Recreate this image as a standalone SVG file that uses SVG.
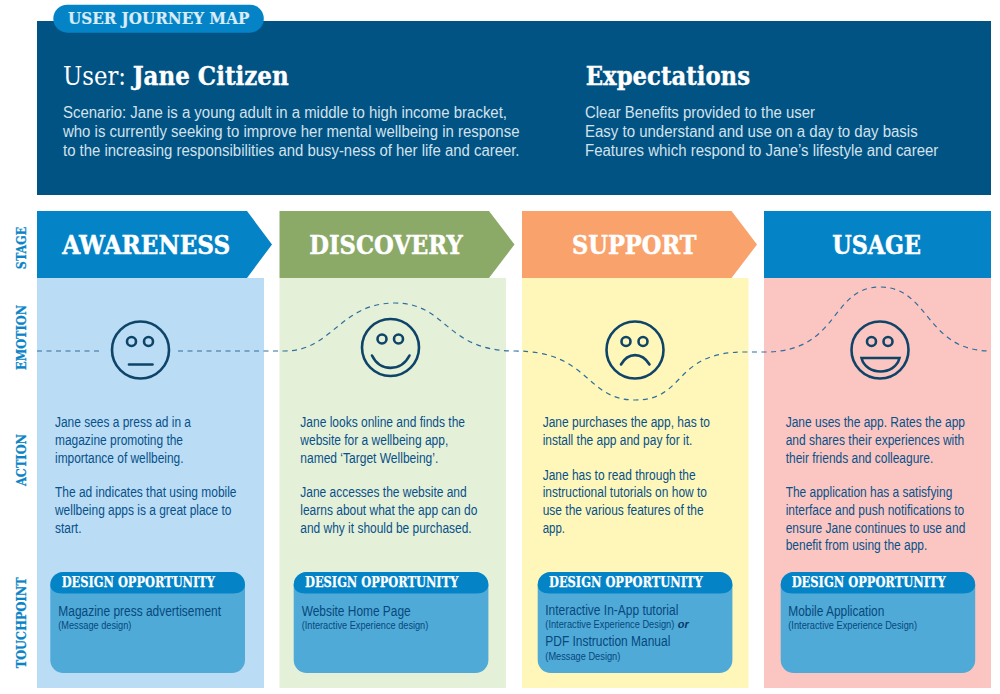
<svg xmlns="http://www.w3.org/2000/svg" width="1000" height="694" viewBox="0 0 1000 694">
<style>
text{font-family:"Liberation Sans",Arial,sans-serif}
.slab{font-family:"DejaVu Serif","Liberation Serif",serif;font-weight:700}
.stage{font-size:26px;fill:#fff;stroke:#fff;stroke-width:.5;text-anchor:middle}
.side{font-size:13.500px;fill:#0a84c6;stroke:#0a84c6;stroke-width:.25;text-anchor:middle}
.body{font-size:14px;fill:#07518a}
.hd{font-size:16px;fill:#d3e2ec}
.dh{font-size:14px;fill:#fff;stroke:#fff;stroke-width:.25}
.big{font-size:15.500px;fill:#07487c}
.small{font-size:11.500px;fill:#07487c}
.card{fill:#4faad8}
.cardh{fill:#0484c7}
.face circle,.face path{fill:none;stroke:#0f4469;stroke-width:2.6;stroke-linecap:round}
.eye{stroke-width:2.2}
.conn{fill:none;stroke:#2f6e9e;stroke-width:1.2;stroke-dasharray:5 4.5}
</style>
<rect width="1000" height="694" fill="#fff"/>
<g id="header">
<rect x="37" y="21" width="954" height="174" fill="#015384"/>
<rect x="53.300" y="4.700" width="210.500" height="28" rx="14" fill="#0484c7"/>
<text class="slab" x="68" y="24" font-size="16" fill="#d9ecf7" stroke="#d9ecf7" stroke-width=".2" textLength="181.300" lengthAdjust="spacingAndGlyphs">USER JOURNEY MAP</text>
<text x="63" y="85" font-size="26" fill="#fff" style="font-family:'DejaVu Serif','Liberation Serif',serif" textLength="63" lengthAdjust="spacingAndGlyphs">User:</text>
<text class="slab" x="132.700" y="85" font-size="26" fill="#fff" stroke="#fff" stroke-width=".4" textLength="156" lengthAdjust="spacingAndGlyphs">Jane Citizen</text>
<text class="hd" x="63" y="117.500" textLength="444" lengthAdjust="spacingAndGlyphs">Scenario: Jane is a young adult in a middle to high income bracket,</text>
<text class="hd" x="63" y="137" textLength="456.500" lengthAdjust="spacingAndGlyphs">who is currently seeking to improve her mental wellbeing in response</text>
<text class="hd" x="63" y="156" textLength="456.500" lengthAdjust="spacingAndGlyphs">to the increasing responsibilities and busy-ness of her life and career.</text>
<text class="slab" x="585.700" y="85" font-size="26" fill="#fff" stroke="#fff" stroke-width=".4" textLength="164.300" lengthAdjust="spacingAndGlyphs">Expectations</text>
<text class="hd" x="585" y="117.500" textLength="230" lengthAdjust="spacingAndGlyphs">Clear Benefits provided to the user</text>
<text class="hd" x="585" y="137" textLength="332.700" lengthAdjust="spacingAndGlyphs">Easy to understand and use on a day to day basis</text>
<text class="hd" x="585" y="156" textLength="353.300" lengthAdjust="spacingAndGlyphs">Features which respond to Jane’s lifestyle and career</text>
</g>
<g id="side-labels">
<text class="slab side" transform="translate(26,248) rotate(-90)" textLength="42.300" lengthAdjust="spacingAndGlyphs">STAGE</text>
<text class="slab side" transform="translate(26,337.500) rotate(-90)" textLength="65" lengthAdjust="spacingAndGlyphs">EMOTION</text>
<text class="slab side" transform="translate(26,460) rotate(-90)" textLength="52" lengthAdjust="spacingAndGlyphs">ACTION</text>
<text class="slab side" transform="translate(26,622.800) rotate(-90)" textLength="91" lengthAdjust="spacingAndGlyphs">TOUCHPOINT</text>
</g>
<g id="awareness">
<rect x="37" y="278" width="227" height="410" fill="#badcf5"/>
<path d="M37 211H247L272 244.500L247 278H37Z" fill="#0484c7"/>
<text class="slab stage" x="146.300" y="254" textLength="168" lengthAdjust="spacingAndGlyphs">AWARENESS</text>
<text class="body" x="55" y="427.300" textLength="136" lengthAdjust="spacingAndGlyphs">Jane sees a press ad in a</text>
<text class="body" x="55" y="445" textLength="128" lengthAdjust="spacingAndGlyphs">magazine promoting the</text>
<text class="body" x="55" y="462.500" textLength="128.500" lengthAdjust="spacingAndGlyphs">importance of wellbeing.</text>
<text class="body" x="55" y="497" textLength="181.500" lengthAdjust="spacingAndGlyphs">The ad indicates that using mobile</text>
<text class="body" x="55" y="515" textLength="176.500" lengthAdjust="spacingAndGlyphs">wellbeing apps is a great place to</text>
<text class="body" x="55" y="532.500" textLength="26.500" lengthAdjust="spacingAndGlyphs">start.</text>
<rect class="card" x="50.300" y="572" width="194.700" height="101" rx="13"/>
<path class="cardh" d="M63.300 572H232A13 13 0 0 1 245 585V585C245 590 240 593.500 233 593.500H62.300C55 593.500 50.300 590 50.300 585A13 13 0 0 1 63.300 572Z"/>
<text class="slab dh" x="61.700" y="587" textLength="153.300" lengthAdjust="spacingAndGlyphs">DESIGN OPPORTUNITY</text>
<text class="big" x="58.300" y="615.500" textLength="162.700" lengthAdjust="spacingAndGlyphs">Magazine press advertisement</text>
<text class="small" x="58.300" y="629" textLength="73" lengthAdjust="spacingAndGlyphs">(Message design)</text>
</g>
<g id="discovery">
<rect x="279.500" y="278" width="226.500" height="410" fill="#e5f0d8"/>
<path d="M279.500 211H489L514.500 244.500L489 278H279.500Z" fill="#8ba967"/>
<text class="slab stage" x="386" y="254" textLength="153.400" lengthAdjust="spacingAndGlyphs">DISCOVERY</text>
<text class="body" x="300.300" y="427.300" textLength="164.700" lengthAdjust="spacingAndGlyphs">Jane looks online and finds the</text>
<text class="body" x="300.300" y="445" textLength="148" lengthAdjust="spacingAndGlyphs">website for a wellbeing app,</text>
<text class="body" x="300.300" y="462.500" textLength="138" lengthAdjust="spacingAndGlyphs">named ‘Target Wellbeing’.</text>
<text class="body" x="300.300" y="497" textLength="166.400" lengthAdjust="spacingAndGlyphs">Jane accesses the website and</text>
<text class="body" x="300.300" y="515" textLength="177" lengthAdjust="spacingAndGlyphs">learns about what the app can do</text>
<text class="body" x="300.300" y="532.500" textLength="171.400" lengthAdjust="spacingAndGlyphs">and why it should be purchased.</text>
<rect class="card" x="293.700" y="572" width="194.700" height="101" rx="13"/>
<path class="cardh" d="M306.700 572H475.400A13 13 0 0 1 488.400 585V585C488.400 590 483.400 593.500 476.400 593.500H305.700C298.400 593.500 293.700 590 293.700 585A13 13 0 0 1 306.700 572Z"/>
<text class="slab dh" x="305" y="587" textLength="153.300" lengthAdjust="spacingAndGlyphs">DESIGN OPPORTUNITY</text>
<text class="big" x="301.700" y="615.500" textLength="109" lengthAdjust="spacingAndGlyphs">Website Home Page</text>
<text class="small" x="301.700" y="629" textLength="126.600" lengthAdjust="spacingAndGlyphs">(Interactive Experience design)</text>
</g>
<g id="support">
<rect x="522" y="278" width="226.500" height="410" fill="#fef7b9"/>
<path d="M522 211H731.500L757 244.500L731.500 278H522Z" fill="#f9a26c"/>
<text class="slab stage" x="634.300" y="254" textLength="124.700" lengthAdjust="spacingAndGlyphs">SUPPORT</text>
<text class="body" x="542.700" y="427.300" textLength="167.300" lengthAdjust="spacingAndGlyphs">Jane purchases the app, has to</text>
<text class="body" x="542.700" y="445" textLength="149.600" lengthAdjust="spacingAndGlyphs">install the app and pay for it.</text>
<text class="body" x="542.700" y="479.500" textLength="153" lengthAdjust="spacingAndGlyphs">Jane has to read through the</text>
<text class="body" x="542.700" y="497" textLength="164.300" lengthAdjust="spacingAndGlyphs">instructional tutorials on how to</text>
<text class="body" x="542.700" y="515" textLength="161" lengthAdjust="spacingAndGlyphs">use the various features of the</text>
<text class="body" x="542.700" y="532.500" textLength="22.300" lengthAdjust="spacingAndGlyphs">app.</text>
<rect class="card" x="537.700" y="572" width="194.700" height="101" rx="13"/>
<path class="cardh" d="M550.700 572H719.400A13 13 0 0 1 732.400 585V585C732.400 590 727.400 593.500 720.400 593.500H549.700C542.400 593.500 537.700 590 537.700 585A13 13 0 0 1 550.700 572Z"/>
<text class="slab dh" x="549" y="587" textLength="153.700" lengthAdjust="spacingAndGlyphs">DESIGN OPPORTUNITY</text>
<text class="big" x="545.300" y="615" textLength="133" lengthAdjust="spacingAndGlyphs">Interactive In-App tutorial</text>
<text class="small" x="545.300" y="628.300" textLength="129" lengthAdjust="spacingAndGlyphs">(Interactive Experience Design)</text>
<text x="677.700" y="628.300" font-size="11" font-weight="700" font-style="italic" fill="#07396a">or</text>
<text class="big" x="545.300" y="646" textLength="125" lengthAdjust="spacingAndGlyphs">PDF Instruction Manual</text>
<text class="small" x="545.300" y="659.500" textLength="75" lengthAdjust="spacingAndGlyphs">(Message Design)</text>
</g>
<g id="usage">
<rect x="764" y="278" width="227" height="410" fill="#fbc6c1"/>
<rect x="764" y="211" width="227" height="67" fill="#0484c7"/>
<text class="slab stage" x="876.700" y="254" textLength="88.700" lengthAdjust="spacingAndGlyphs">USAGE</text>
<text class="body" x="785.700" y="427.300" textLength="179.300" lengthAdjust="spacingAndGlyphs">Jane uses the app. Rates the app</text>
<text class="body" x="785.700" y="445" textLength="178.600" lengthAdjust="spacingAndGlyphs">and shares their experiences with</text>
<text class="body" x="785.700" y="462.500" textLength="147.600" lengthAdjust="spacingAndGlyphs">their friends and colleagure.</text>
<text class="body" x="785.700" y="497" textLength="166.600" lengthAdjust="spacingAndGlyphs">The application has a satisfying</text>
<text class="body" x="785.700" y="515" textLength="178.600" lengthAdjust="spacingAndGlyphs">interface and push notifications to</text>
<text class="body" x="785.700" y="532.500" textLength="179.600" lengthAdjust="spacingAndGlyphs">ensure Jane continues to use and</text>
<text class="body" x="785.700" y="550.300" textLength="141.600" lengthAdjust="spacingAndGlyphs">benefit from using the app.</text>
<rect class="card" x="780.700" y="572" width="194.500" height="101" rx="13"/>
<path class="cardh" d="M793.700 572H962.200A13 13 0 0 1 975.200 585V585C975.200 590 970.200 593.500 963.200 593.500H792.700C785.400 593.500 780.700 590 780.700 585A13 13 0 0 1 793.700 572Z"/>
<text class="slab dh" x="791.700" y="587" textLength="154" lengthAdjust="spacingAndGlyphs">DESIGN OPPORTUNITY</text>
<text class="big" x="788.300" y="615.500" textLength="96" lengthAdjust="spacingAndGlyphs">Mobile Application</text>
<text class="small" x="788.300" y="629" textLength="128.700" lengthAdjust="spacingAndGlyphs">(Interactive Experience Design)</text>
</g>
<g id="connectors">
<path class="conn" d="M37 351H103"/>
<path class="conn" d="M178 351H285C332 351 340 303 395 303C447 303 445 351 515 351C590 351 585 400 635 400C687 400 672 352 745 352H765C840 352 830 287 880 287C930 287 925 351 991 351"/>
</g>
<g id="face-neutral" class="face">
<circle cx="140.500" cy="350" r="28.500"/>
<circle class="eye" cx="131.500" cy="341.500" r="4.500"/>
<circle class="eye" cx="148.500" cy="341.500" r="4.500"/>
<path d="M129 364.500H152.500"/>
</g>
<g id="face-happy" class="face">
<circle cx="390.500" cy="347.500" r="28.500"/>
<circle class="eye" cx="382" cy="339" r="4.500"/>
<circle class="eye" cx="398.500" cy="339" r="4.500"/>
<path d="M372 355.500C380 372 401 372 409.500 355.500"/>
</g>
<g id="face-sad" class="face">
<circle cx="635" cy="350" r="28.500"/>
<circle class="eye" cx="626" cy="341.500" r="4.500"/>
<circle class="eye" cx="643" cy="341.500" r="4.500"/>
<path d="M621 364.500C628 352 642 352 649.500 364.500"/>
</g>
<g id="face-laugh" class="face">
<circle cx="880" cy="350" r="28.500"/>
<circle class="eye" cx="871.500" cy="341.500" r="4.500"/>
<circle class="eye" cx="888" cy="341.500" r="4.500"/>
<path d="M861.500 358H899.500C895 376 866 376 861.500 358Z"/>
</g>
</svg>
